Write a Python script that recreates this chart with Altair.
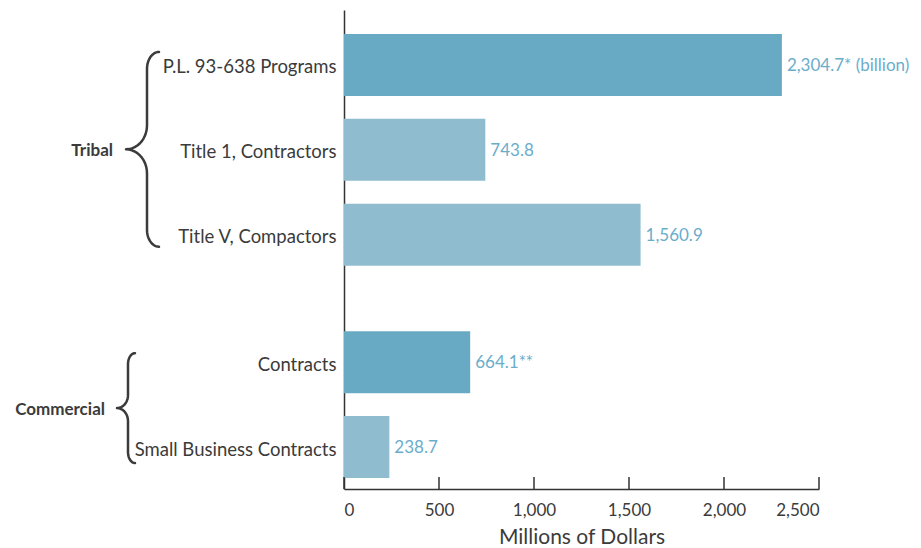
import altair as alt
import pandas as pd
import numpy as np

# ---- data ----
categories = ["P.L. 93-638 Programs", "Title 1, Contractors", "Title V, Compactors",
              "Contracts", "Small Business Contracts"]
values = [2304.7, 743.8, 1560.9, 664.1, 238.7]
value_labels = ["2,304.7* (billion)", "743.8", "1,560.9", "664.1**", "238.7"]
positions = [0, 1, 2, 3.5, 4.5]
kinds = ["total", "part", "part", "total", "part"]
x_ticks = [0, 500, 1000, 1500, 2000, 2500]

groups = ["Tribal", "Commercial"]
group_first = [0, 3.5]
group_last = [2, 4.5]

# ---- style ----
FONT = "Lato"
TEXT = "#3b3b3b"
DARK = "#68AAC3"
LIGHT = "#8FBCCF"
VALUE_COLOR = "#6AADCB"
W, H = 475, 479
Y_DOMAIN = [-0.647, 4.994]
PX = H / (Y_DOMAIN[1] - Y_DOMAIN[0])  # pixels per y unit
HALF_BAR = 31 / PX

# brace style per group (pixels relative to the plot's left edge)
brace_top_px = [13, 9]
brace_bot_px = [12, 16]
brace_end_x = [-185, -209]
brace_stem_x = [-197, -216]
brace_tip_x = [-218, -227]
brace_r1_px = [17, 11]
brace_r2_px = [24, 13]
label_x = [-231, -239]

df = pd.DataFrame({
    "category": categories,
    "value": values,
    "label": value_labels,
    "pos": positions,
    "kind": kinds,
})
df["y0"] = df["pos"] - HALF_BAR
df["y1"] = df["pos"] + HALF_BAR
df["zero"] = 0

ticks_df = pd.DataFrame({"t": x_ticks})

# brace paths
rows = []
glab = []
for g, name in enumerate(groups):
    a = group_first[g] - brace_top_px[g] / PX
    b = group_last[g] + brace_bot_px[g] / PX
    m = (a + b) / 2
    xe, xs, xt = brace_end_x[g], brace_stem_x[g], brace_tip_x[g]
    r1, r2 = brace_r1_px[g] / PX, brace_r2_px[g] / PX
    pts = []
    th = np.linspace(0, np.pi / 2, 12)
    for t in th:
        pts.append((xe - (xe - xs) * np.sin(t), a + r1 * (1 - np.cos(t))))
    for t in th:
        pts.append((xt + (xs - xt) * np.cos(t), m - r2 + r2 * np.sin(t)))
    for t in th:
        pts.append((xt + (xs - xt) * np.sin(t), m + r2 - r2 * np.cos(t)))
    for t in th:
        pts.append((xe - (xe - xs) * np.cos(t), b - r1 * (1 - np.sin(t))))
    for i, (px, py) in enumerate(pts):
        rows.append({"group": name, "i": i, "bx": px, "by": py})
    glab.append({"group": name, "lx": label_x[g], "mid": m})
brace_df = pd.DataFrame(rows)
glab_df = pd.DataFrame(glab)

label_expr = ""
for p, c in zip(positions, categories):
    label_expr += f"datum.value == {p} ? '{c}' : "
label_expr += "''"

yscale = alt.Scale(domain=Y_DOMAIN, reverse=True, nice=False, zero=False)
xscale = alt.Scale(domain=[0, 2500], nice=False, zero=True)

bars = alt.Chart(df).mark_rect().encode(
    x=alt.X("zero:Q", scale=xscale,
            axis=alt.Axis(values=x_ticks, format=",d", title="Millions of Dollars",
                          ticks=False, tickSize=0, grid=False,
                          domainColor="#333333", domainWidth=1.5,
                          labelFont=FONT, labelFontSize=17, labelColor=TEXT,
                          labelPadding=13,
                          titleFont=FONT, titleFontSize=21, titleFontWeight="normal",
                          titleColor=TEXT, titlePadding=8)),
    x2="value:Q",
    y=alt.Y("y0:Q", scale=yscale,
            axis=alt.Axis(values=positions, labelExpr=label_expr, title=None,
                          ticks=False, tickSize=0, grid=False,
                          domainColor="#333333", domainWidth=1.5,
                          labelFont=FONT, labelFontSize=18.5, labelColor=TEXT,
                          labelPadding=8, labelLimit=400, labelOffset=2)),
    y2="y1:Q",
    color=alt.Color("kind:N", scale=alt.Scale(domain=["total", "part"], range=[DARK, LIGHT]),
                    legend=None),
)

value_text = alt.Chart(df).mark_text(
    align="left", baseline="middle", dx=5, dy=1, font=FONT, fontSize=17, color=VALUE_COLOR
).encode(
    x=alt.X("value:Q", scale=xscale),
    y=alt.Y("pos:Q", scale=yscale),
    text="label:N",
)

tick_marks = alt.Chart(ticks_df).mark_rule(color="#333333", strokeWidth=1.5).encode(
    x=alt.X("t:Q", scale=xscale),
    y=alt.value(H),
    y2=alt.value(H - 12),
)

main = alt.layer(bars, value_text, tick_marks)

brace = alt.Chart(brace_df).mark_line(
    color="#3b3b3b", strokeWidth=2.5, strokeCap="round", strokeJoin="round"
).encode(
    x=alt.X("bx:Q", scale=None, axis=None),
    y=alt.Y("by:Q", scale=yscale),
    detail="group:N",
    order="i:Q",
)

group_text = alt.Chart(glab_df).mark_text(
    align="right", baseline="middle", dy=2, font=FONT, fontSize=17, fontWeight="bold", color=TEXT
).encode(
    x=alt.X("lx:Q", scale=None, axis=None),
    y=alt.Y("mid:Q", scale=yscale),
    text="group:N",
)

chart = alt.layer(main, brace, group_text).resolve_scale(x="independent").properties(
    width=W, height=H,
    background="white",
    autosize=alt.AutoSizeParams(type="none"),
    padding={"left": 336, "top": 2, "right": 90, "bottom": 62},
).configure_view(stroke=None)

chart.save("out.html", embed_options={"renderer": "svg", "actions": False})
